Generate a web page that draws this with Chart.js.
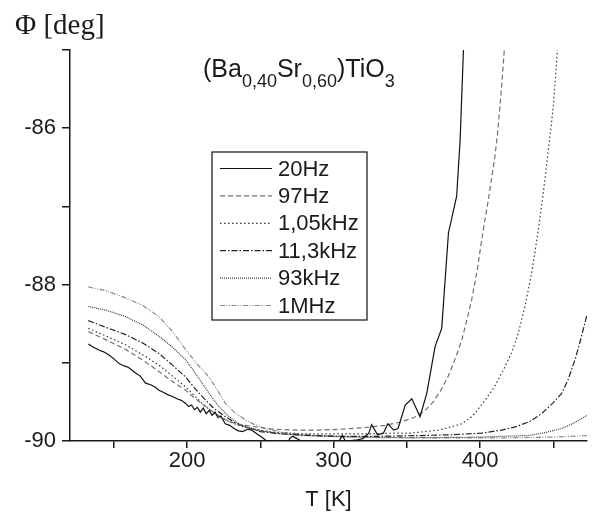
<!DOCTYPE html>
<html>
<head>
<meta charset="utf-8">
<script src="https://cdn.jsdelivr.net/npm/chart.js@4.4.1/dist/chart.umd.min.js"></script>
<style>
html,body{margin:0;padding:0;background:#fff;}
canvas{display:block;}
</style>
</head>
<body>
<canvas id="c" width="592" height="515"></canvas>
<script>
// ---- data (T in K, phase in deg) ----
const seriesLabels = ["20Hz", "97Hz", "1,05kHz", "11,3kHz", "93kHz", "1MHz"];
const xTicks = [150, 200, 250, 300, 350, 400, 450];
const xLabelTicks = [200, 300, 400];
const yTicks = [-90, -89, -88, -87, -86, -85];

const t20 = [132.5,136,140,143,146.6,150,153.5,157,160,164.8,168,171.6,175,178,180.7,184,187,190,193,196,199,201,203,205,207,209,211,213,215,217,219,221,223,226,229,232,235,238,241,244,247,250,253,256,262,268,270,272,274,277,282,290,300,304,306,308,315,320,324,326,330,334,337,341,344,348.9,353.4,359,363.6,369.3,373.8,378.4,384,386.4,388.6,390];
const p20 = [-88.76,-88.80,-88.84,-88.86,-88.90,-88.95,-89.01,-89.04,-89.06,-89.13,-89.17,-89.26,-89.28,-89.31,-89.35,-89.38,-89.41,-89.43,-89.46,-89.48,-89.52,-89.56,-89.54,-89.60,-89.57,-89.63,-89.58,-89.65,-89.61,-89.67,-89.63,-89.70,-89.68,-89.78,-89.80,-89.84,-89.87,-89.88,-89.85,-89.86,-89.90,-89.94,-89.98,-90.05,-90.08,-90.05,-89.97,-89.94,-89.96,-89.99,-90.01,-90.00,-90.01,-89.99,-89.93,-90.00,-89.99,-89.97,-89.90,-89.79,-89.92,-89.90,-89.78,-89.86,-89.84,-89.54,-89.46,-89.69,-89.39,-88.79,-88.56,-87.34,-86.87,-86.14,-85.02,-84.60];

const t97 = [132.5,145,158,170,180.7,190,198.9,205,212.5,220,226.2,233,240,250,260,275,290,305,320,335,345,355,362,368,373,378,383,387.5,391,394.3,398,401.2,403.5,405.7,408,410.2,412,413.6,415,416.6,418];
const p97 = [-88.60,-88.71,-88.83,-88.97,-89.11,-89.24,-89.35,-89.45,-89.56,-89.66,-89.73,-89.78,-89.80,-89.83,-89.85,-89.86,-89.86,-89.85,-89.83,-89.80,-89.76,-89.70,-89.62,-89.50,-89.36,-89.18,-88.95,-88.71,-88.45,-88.19,-87.82,-87.42,-87.15,-86.91,-86.62,-86.35,-86.05,-85.71,-85.40,-84.98,-84.60];

const t105 = [132.5,145,158,170,180.7,190,198.9,205,210.2,218,226.2,235,245,260,280,300,320,340,353,362,372,380,387.5,395,403.4,410,417,422,426.1,431,435.2,439,442,444.5,446.6,448.5,450,451.5,452.9,454];
const p105 = [-88.56,-88.66,-88.77,-88.90,-89.03,-89.17,-89.31,-89.42,-89.52,-89.64,-89.73,-89.80,-89.85,-89.89,-89.91,-89.91,-89.91,-89.90,-89.90,-89.88,-89.86,-89.82,-89.78,-89.68,-89.48,-89.30,-89.05,-88.85,-88.62,-88.25,-87.85,-87.40,-86.99,-86.62,-86.27,-85.98,-85.71,-85.35,-84.98,-84.60];

const t113 = [132.5,145,158,170,180.7,190,198.9,205,210.2,218,226.2,233,239.8,250,265,285,305,330,360,380,401,415,424,434,442,450,455.7,460,464.8,468,471.6,473];
const p113 = [-88.46,-88.55,-88.64,-88.75,-88.88,-89.03,-89.18,-89.32,-89.43,-89.58,-89.69,-89.77,-89.82,-89.88,-89.91,-89.93,-89.94,-89.94,-89.93,-89.92,-89.90,-89.86,-89.82,-89.75,-89.65,-89.51,-89.39,-89.22,-88.96,-88.75,-88.49,-88.38];

const t93 = [132.5,145,158,170,180.7,190,198.9,205,210.2,216,221.6,228,235.2,242,248.9,260,280,310,350,400,433,445,455.7,463,471.6,473];
const p93 = [-88.28,-88.33,-88.41,-88.52,-88.66,-88.80,-88.96,-89.12,-89.26,-89.42,-89.56,-89.68,-89.78,-89.83,-89.86,-89.90,-89.93,-89.95,-89.96,-89.95,-89.93,-89.89,-89.84,-89.78,-89.69,-89.67];

const t1m = [132.5,145,158,170,180.7,190,198.9,207,214.8,220,226.2,232,239.8,246,253.4,265,280,300,330,370,420,450,473];
const p1m = [-88.03,-88.08,-88.17,-88.27,-88.41,-88.60,-88.83,-89.02,-89.18,-89.33,-89.52,-89.63,-89.73,-89.79,-89.84,-89.89,-89.92,-89.94,-89.95,-89.96,-89.96,-89.95,-89.93];

const seriesT = [t20, t97, t105, t113, t93, t1m];
const seriesP = [p20, p97, p105, p113, p93, p1m];
const seriesColor = ["#111111", "#707070", "#3a3a3a", "#222222", "#3a3a3a", "#8a8a8a"];
const seriesDash = [[], [5, 3], [1.5, 2.5], [6, 2, 1.5, 2], [1, 1], [5, 1.5, 1, 1.5, 1, 1.5]];

const SANS = "'Liberation Sans', Arial, sans-serif";
const SERIF = "'Liberation Serif', 'Times New Roman', serif";

const datasets = seriesLabels.map((lab, i) => ({
  label: lab,
  data: seriesT[i].map((t, j) => ({x: t, y: seriesP[i][j]})),
  borderColor: seriesColor[i],
  borderDash: seriesDash[i],
  borderWidth: 1.2,
  pointRadius: 0,
  tension: 0,
  fill: false
}));

const decor = {
  id: 'decor',
  afterDraw(chart) {
    const ctx = chart.ctx;
    ctx.save();
    // y axis label
    ctx.fillStyle = '#1a1a1a';
    ctx.font = "29px " + SERIF;
    ctx.textBaseline = 'alphabetic';
    ctx.textAlign = 'left';
    ctx.fillText("\u03A6 [deg]", 15, 34);

    // compound title
    const parts = [["(Ba", 0], ["0,40", 1], ["Sr", 0], ["0,60", 1], [")TiO", 0], ["3", 1]];
    let x = 203;
    for (const [s, sub] of parts) {
      ctx.font = (sub ? "18px " : "25px ") + SANS;
      ctx.fillText(s, x, sub ? 87 : 77);
      x += ctx.measureText(s).width;
    }

    // legend
    const lx = 212, ly = 152, lw = 155, lh = 168;
    ctx.strokeStyle = '#222';
    ctx.lineWidth = 1.3;
    ctx.setLineDash([]);
    ctx.strokeRect(lx, ly, lw, lh);
    chart.data.datasets.forEach((ds, i) => {
      const yy = 168.5 + i * 27.4;
      ctx.beginPath();
      ctx.setLineDash(ds.borderDash);
      ctx.strokeStyle = ds.borderColor;
      ctx.lineWidth = 1.2;
      ctx.moveTo(220, yy);
      ctx.lineTo(272, yy);
      ctx.stroke();
      ctx.setLineDash([]);
      ctx.fillStyle = '#1a1a1a';
      ctx.font = "22px " + SANS;
      ctx.textBaseline = 'middle';
      ctx.fillText(ds.label, 278, yy + 1);
    });
    ctx.restore();
  }
};

new Chart(document.getElementById('c'), {
  type: 'line',
  data: { datasets },
  options: {
    responsive: false,
    animation: false,
    layout: { padding: { top: 50, right: 5, left: 0, bottom: 0 } },
    plugins: { legend: { display: false }, tooltip: { enabled: false } },
    scales: {
      x: {
        type: 'linear',
        min: 120, max: 473,
        afterFit(s) { s.height = 74; },
        afterBuildTicks(s) { s.ticks = xTicks.map(v => ({value: v})); },
        ticks: {
          autoSkip: false, maxRotation: 0, padding: 0,
          color: '#1a1a1a', font: { family: SANS, size: 22 },
          callback: v => xLabelTicks.includes(v) ? String(v) : ''
        },
        grid: { drawOnChartArea: false, drawTicks: true, tickLength: 7, color: '#1a1a1a', lineWidth: 1.5 },
        border: { display: true, color: '#1a1a1a', width: 1.5 },
        title: { display: true, text: 'T [K]', color: '#1a1a1a', font: { family: SANS, size: 22 }, padding: { top: 0, bottom: 2 } }
      },
      y: {
        type: 'linear',
        min: -90, max: -85,
        afterFit(s) { s.width = 70; },
        afterBuildTicks(s) { s.ticks = yTicks.map(v => ({value: v})); },
        ticks: {
          autoSkip: false, padding: 6,
          color: '#1a1a1a', font: { family: SANS, size: 22 },
          callback: v => (v % 2 === 0) ? String(v) : ''
        },
        grid: { drawOnChartArea: false, drawTicks: true, tickLength: 8, color: '#1a1a1a', lineWidth: 1.5 },
        border: { display: true, color: '#1a1a1a', width: 1.5 }
      }
    }
  },
  plugins: [decor]
});
</script>
</body>
</html>
